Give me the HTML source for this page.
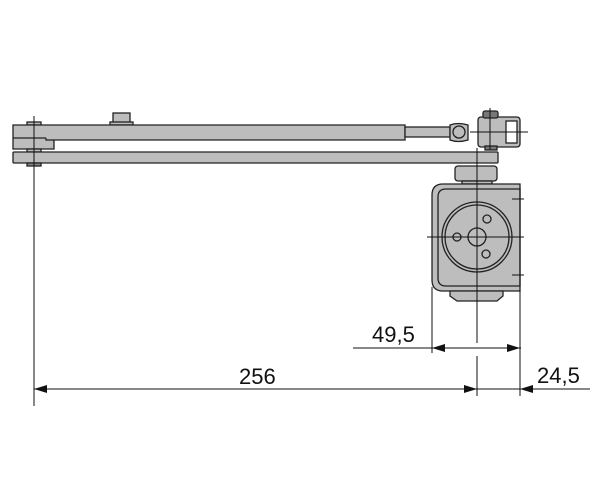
<!DOCTYPE html>
<html><head><style>body{margin:0;background:#fff}svg{display:block}</style></head><body>
<svg width="600" height="500" viewBox="0 0 600 500" xmlns="http://www.w3.org/2000/svg" font-family="Liberation Sans, sans-serif">
<g stroke="#222" stroke-width="1.3" fill="#bdbdbd">
<!-- bolt top -->
<rect x="113" y="113" width="17" height="10"/>
<rect x="110" y="122" width="23" height="3"/>
<rect x="27" y="122" width="14" height="3"/>
<!-- upper arm -->
<path d="M13 125 H405 V140 H54 V149 H13 Z"/>
<line x1="13" y1="138" x2="46" y2="138"/>
<path d="M46 138 V140 H54"/>
<!-- rod -->
<rect x="405" y="127" width="45" height="10"/>
<!-- eye -->
<path d="M450 125 Q458 122 468 125 V140 Q458 143 450 140 Z"/>
<circle cx="459" cy="132" r="6"/>
<!-- clevis -->
<rect x="478" y="117" width="42" height="30" rx="3"/>
<rect x="506" y="121" width="11" height="22" fill="#fff"/>
<rect x="483" y="111" width="15" height="7" rx="2" fill="#777"/>
<rect x="485" y="146" width="12" height="4" fill="#777"/>
<!-- lower arm -->
<rect x="27" y="149" width="14" height="3"/>
<rect x="13" y="152" width="485" height="11" rx="1"/>
<rect x="27" y="163" width="14" height="3" fill="#888"/>
<!-- pinion -->
<rect x="455" y="166" width="42" height="15" rx="3"/>
<rect x="462" y="181" width="30" height="3"/>
<!-- body -->
<path d="M443 184 H520 V291 H443 Q432 291 432 280 V195 Q432 184 443 184 Z"/>
<path d="M446 189 H520 V286 H446 Q438 286 438 278 V197 Q438 189 446 189 Z" fill="none"/>
<circle cx="477" cy="237" r="35" fill="none"/>
<circle cx="477" cy="237" r="32" fill="none"/>
<circle cx="477" cy="237" r="9"/>
<circle cx="487" cy="219" r="4"/>
<circle cx="457" cy="237" r="4"/>
<circle cx="486" cy="254" r="4"/>
<path d="M450 291 H503 V296 L497 301 H457 L450 296 Z"/>
</g>
<g stroke="#111" stroke-width="1" fill="none">
<line x1="34" y1="116" x2="34" y2="406"/>
<line x1="490" y1="108" x2="490" y2="150"/>
<line x1="477" y1="148" x2="477" y2="343"/>
<line x1="477" y1="356" x2="477" y2="396"/>
<line x1="470" y1="132" x2="528" y2="132"/>
<line x1="427" y1="237" x2="524" y2="237"/>
<line x1="512" y1="199" x2="524" y2="199"/>
<line x1="512" y1="275" x2="524" y2="275"/>
<line x1="432" y1="287" x2="432" y2="353"/>
<line x1="520" y1="290" x2="520" y2="396"/>
<line x1="353" y1="348" x2="521" y2="348"/>
<line x1="34" y1="389" x2="477" y2="389"/>
<line x1="477" y1="389" x2="590" y2="389"/>
</g>
<g fill="#111">
<path d="M432 348 l13 -4 v8 z"/>
<path d="M520 348 l-13 -4 v8 z"/>
<path d="M34 389 l13 -4 v8 z"/>
<path d="M477 389 l-13 -4 v8 z"/>
<path d="M520 389 l13 -4 v8 z"/>
</g>
<g font-size="22" fill="#111">
<text x="372" y="342">49,5</text>
<text x="239" y="384">256</text>
<text x="537" y="383">24,5</text>
</g>
</svg>
</body></html>
